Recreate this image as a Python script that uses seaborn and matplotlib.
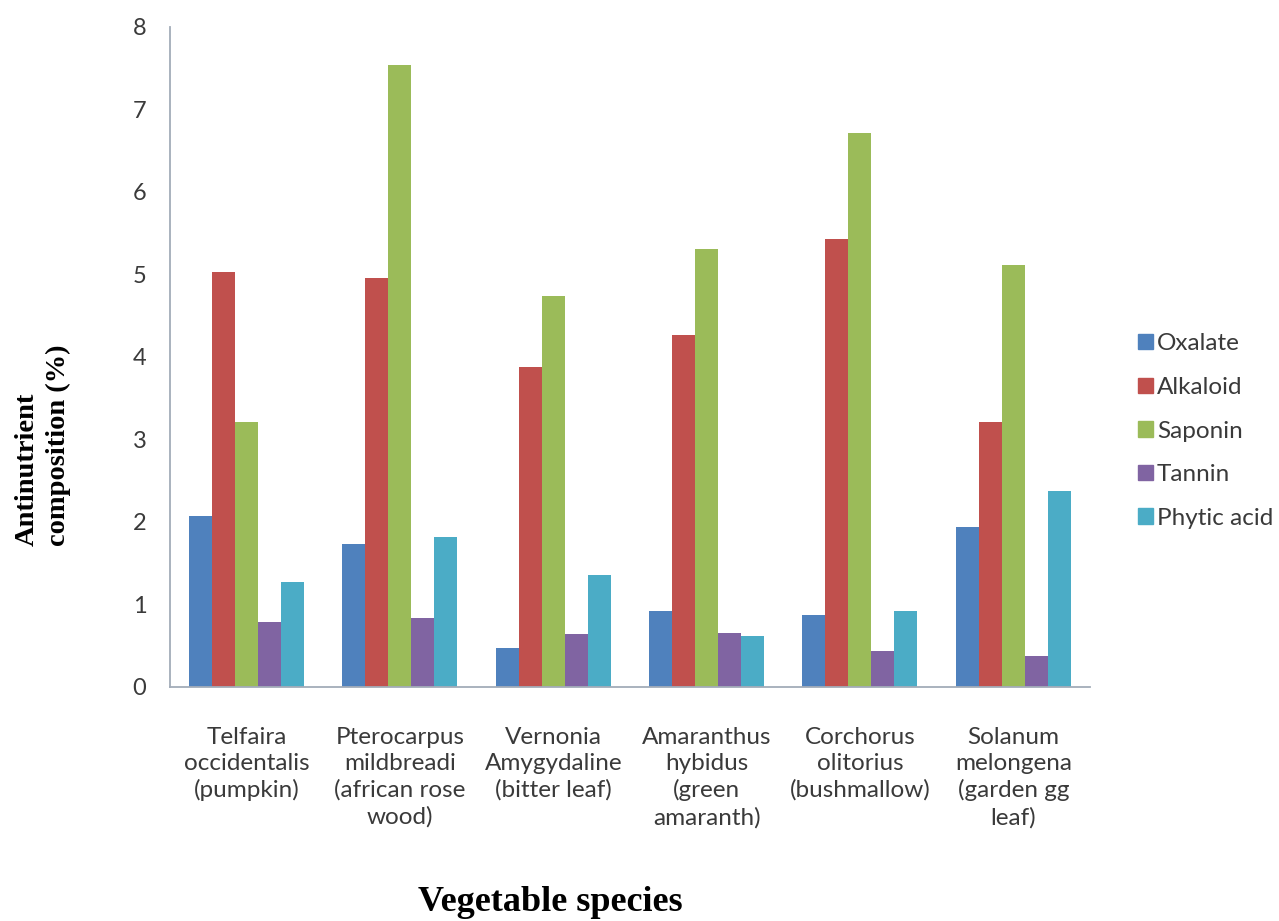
import matplotlib
matplotlib.use("Agg")
import matplotlib.pyplot as plt
import seaborn as sns
import pandas as pd
import numpy as np

# Vegetable species (category labels)
species = [
    "Telfaira\noccidentalis\n(pumpkin)",
    "Pterocarpus\nmildbreadi\n(african rose\nwood)",
    "Vernonia\nAmygydaline\n(bitter leaf)",
    "Amaranthus\nhybidus\n(green\namaranth)",
    "Corchorus\nolitorius\n(bushmallow)",
    "Solanum\nmelongena\n(garden gg\nleaf)",
]

# Antinutrient composition (%) per species
oxalate = [2.07, 1.73, 0.47, 0.92, 0.87, 1.94]
alkaloid = [5.02, 4.95, 3.87, 4.26, 5.42, 3.21]
saponin = [3.21, 7.53, 4.73, 5.31, 6.71, 5.11]
tannin = [0.78, 0.83, 0.64, 0.65, 0.43, 0.37]
phytic_acid = [1.27, 1.81, 1.35, 0.61, 0.92, 2.37]

nutrients = ["Oxalate", "Alkaloid", "Saponin", "Tannin", "Phytic acid"]
series = [oxalate, alkaloid, saponin, tannin, phytic_acid]
colors = ["#4F81BD", "#C0504D", "#9BBB59", "#8064A2", "#4BACC6"]

rows = []
for name, vals in zip(nutrients, series):
    for sp, v in zip(species, vals):
        rows.append({"species": sp, "nutrient": name, "value": v})
df = pd.DataFrame(rows)

sns.set_theme(style="white")
plt.rcParams["font.family"] = ["Lato", "DejaVu Sans"]

fig = plt.figure(figsize=(12.79, 9.21), dpi=100)
ax = fig.add_axes([0.1329, 0.2546, 0.7193, 0.7164])

sns.barplot(
    data=df, x="species", y="value", hue="nutrient",
    hue_order=nutrients, order=species, palette=colors,
    width=0.75, saturation=1, gap=0, ax=ax, legend=False,
    linewidth=0,
)

axis_col = "#A3ACB9"
ax.set_xlim(-0.5, len(species) - 0.5)
ax.set_ylim(0, 8)
ax.set_yticks(range(0, 9))
for side in ["top", "right"]:
    ax.spines[side].set_visible(False)
for side in ["left", "bottom"]:
    ax.spines[side].set_color(axis_col)
    ax.spines[side].set_linewidth(1.3)

ax.tick_params(axis="y", which="major", direction="out", length=6,
               color=axis_col, width=1.3, labelsize=17, labelcolor="#3a3a3a", pad=11)
# category boundaries get tick marks, centres carry only the labels
ax.set_xticks(np.arange(len(species)))
ax.set_xticklabels(species, fontsize=17.5, color="#3a3a3a", linespacing=1.3, va="top")
ax.set_xticks(np.arange(-0.5, len(species)), minor=True)
ax.tick_params(axis="x", which="major", length=0, pad=29)
ax.tick_params(axis="x", which="minor", direction="out", length=5,
               color=axis_col, width=1.3)

ax.set_xlabel("")
ax.set_ylabel("")
fig.text(550 / 1279, 1 - 911 / 921, "Vegetable species", ha="center", va="baseline",
         fontsize=26, fontweight="bold", family="Liberation Serif", color="black")
fig.text(43 / 1279, 1 - 445 / 921, "Antinutrient\ncomposition (%)", ha="center",
         va="center", rotation=90, multialignment="left", fontsize=20.5,
         fontweight="bold", family="Liberation Serif", color="black",
         linespacing=1.3)

handles = [plt.Rectangle((0, 0), 1, 1, color=c) for c in colors]
leg = fig.legend(
    handles, nutrients, loc="center left", bbox_to_anchor=(1138 / 1279, 1 - 431 / 921),
    frameon=False, fontsize=17.5, handlelength=0.6, handleheight=0.6,
    handletextpad=0.18, labelspacing=0.93, borderaxespad=0, borderpad=0,
)
for t in leg.get_texts():
    t.set_color("#3a3a3a")

fig.savefig("out.png", dpi=100, facecolor="white")
